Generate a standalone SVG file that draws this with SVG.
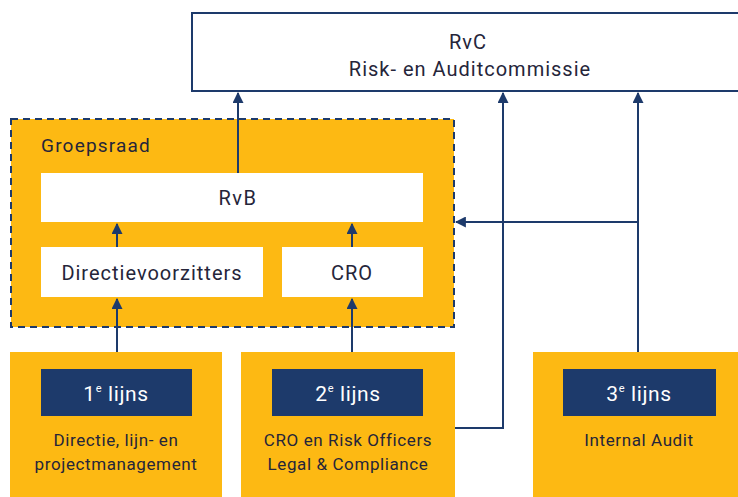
<svg xmlns="http://www.w3.org/2000/svg" width="738" height="497" viewBox="0 0 738 497">
<style>
.yel{fill:#FDB913}
.wb{fill:#ffffff}
.db{fill:#1D3A6B}
.t{font-family:Roboto,"Liberation Sans",sans-serif;fill:#25253A;text-anchor:middle}
.w{font-family:Roboto,"Liberation Sans",sans-serif;fill:#ffffff;text-anchor:middle;font-size:21px;letter-spacing:0.6px}
.c{stroke:#1D3A6B;stroke-width:2;fill:none}
</style>
<defs>
<marker id="ah" viewBox="0 0 10 10" refX="9" refY="5" markerWidth="5.5" markerHeight="5.5" orient="auto" markerUnits="strokeWidth">
<path d="M0,0 L10,5 L0,10 z" fill="#1D3A6B"/>
</marker>
</defs>
<rect width="738" height="497" fill="#ffffff"/>
<g id="rvc">
<rect x="192" y="13" width="560" height="78" fill="#ffffff" stroke="#1D3A6B" stroke-width="2"/>
<text class="t" x="468" y="49" font-size="20" letter-spacing="1">RvC</text>
<text class="t" x="470" y="76" font-size="20" letter-spacing="1">Risk- en Auditcommissie</text>
</g>
<g id="groepsraad">
<rect x="11" y="119" width="443" height="208" class="yel" stroke="#1D3A6B" stroke-width="2" stroke-dasharray="7,5"/>
<text class="t" x="41" y="152" font-size="19" letter-spacing="1.2" style="text-anchor:start">Groepsraad</text>
</g>
<g id="rvb">
<rect x="41" y="173" width="382" height="49" class="wb"/>
<text class="t" x="238" y="205" font-size="20" letter-spacing="1.5">RvB</text>
</g>
<g id="directievoorzitters">
<rect x="41" y="247" width="222" height="50" class="wb"/>
<text class="t" x="152" y="280" font-size="20" letter-spacing="1">Directievoorzitters</text>
</g>
<g id="cro">
<rect x="282" y="247" width="141" height="50" class="wb"/>
<text class="t" x="352" y="280" font-size="20" letter-spacing="1">CRO</text>
</g>
<g id="lijn1">
<rect x="10" y="352" width="212" height="150" class="yel"/>
<rect x="41" y="369" width="151" height="47" class="db"/>
<text class="w" x="116" y="401">1<tspan font-size="11" dy="-9">e</tspan><tspan dy="9"> lijns</tspan></text>
<text class="t" x="116" y="446" font-size="17" letter-spacing="0.6">Directie, lijn- en</text>
<text class="t" x="116" y="470" font-size="17" letter-spacing="0.6">projectmanagement</text>
</g>
<g id="lijn2">
<rect x="241" y="352" width="214" height="150" class="yel"/>
<rect x="272" y="369" width="151" height="47" class="db"/>
<text class="w" x="348" y="401">2<tspan font-size="11" dy="-9">e</tspan><tspan dy="9"> lijns</tspan></text>
<text class="t" x="348" y="446" font-size="17" letter-spacing="0.6">CRO en Risk Officers</text>
<text class="t" x="348" y="470" font-size="17" letter-spacing="0.6">Legal &amp; Compliance</text>
</g>
<g id="lijn3">
<rect x="533" y="352" width="210" height="150" class="yel"/>
<rect x="563" y="369" width="153" height="47" class="db"/>
<text class="w" x="639" y="401">3<tspan font-size="11" dy="-9">e</tspan><tspan dy="9"> lijns</tspan></text>
<text class="t" x="639" y="446" font-size="17" letter-spacing="0.6">Internal Audit</text>
</g>
<g id="connectors">
<path class="c" d="M238,173 V93" marker-end="url(#ah)"/>
<path class="c" d="M117,247 V224" marker-end="url(#ah)"/>
<path class="c" d="M352,247 V224" marker-end="url(#ah)"/>
<path class="c" d="M117,352 V299" marker-end="url(#ah)"/>
<path class="c" d="M352,352 V299" marker-end="url(#ah)"/>
<path class="c" d="M455,428 H503 V93" marker-end="url(#ah)"/>
<path class="c" d="M638,352 V93" marker-end="url(#ah)"/>
<path class="c" d="M638,222 H456" marker-end="url(#ah)"/>
</g>
</svg>
